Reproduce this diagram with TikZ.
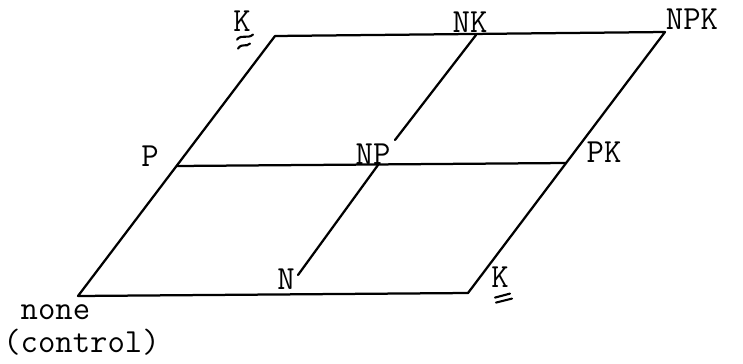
\documentclass[tikz,border=0pt]{standalone}
\usepackage{fontspec}
\usetikzlibrary{calc}
\tikzset{
  rim/.style={line width=1.6pt, line join=round, line cap=round},
  lbl/.style={font=\ttfamily\fontsize{24}{23}\selectfont, inner sep=0pt},
  ul/.style={line width=1.5pt, line cap=round}
}

\begin{document}
\begin{tikzpicture}[x=0.025cm, y=-0.025cm]
  \useasboundingbox (0,0) rectangle (743,363);

  % corners of the grid
  \coordinate (o)   at (78,296);
  \coordinate (kb)  at (468,293);
  \coordinate (p)   at (177,166);
  \coordinate (pk)  at (566,163);
  \coordinate (k)   at (275,36);
  \coordinate (npk) at (665,32);
  \coordinate (np)  at (378,165);
  \coordinate (nk)  at (476,35);
  \coordinate (nt)  at (298,275);
  \coordinate (npt) at (395,140);

  % labels
  \node[lbl] (lk)   at (242,21)  {K};
  \node[lbl] (lnk)  at (470,22)  {NK};
  \node[lbl] (lnpk) at (692,19)  {NPK};
  \node[lbl] (lp)   at (150,156) {P};
  \node[lbl] (lnp)  at (373,154) {NP};
  \node[lbl] (lpk)  at (604,152) {PK};
  \node[lbl] (ln)   at (286,279) {N};
  \node[lbl] (lkb)  at (500,277) {K};
  \node[lbl, align=left, anchor=base west] (lnone) at (3,352)
    {\phantom{(}none\\(control)};

  % double underlines under K
  \draw[ul] ($(lk.south)+(-5,8)$) .. controls ($(lk.south)+(0,2)$) and ($(lk.south)+(5,8)$) .. ($(lk.south)+(11,3)$);
  \draw[ul] ($(lk.south)+(-4,17)$) .. controls ($(lk.south)+(0,11)$) and ($(lk.south)+(4,16)$) .. ($(lk.south)+(8,12)$);
  \draw[ul] ($(lkb.south)+(-5,10)$) -- ($(lkb.south)+(10,6)$);
  \draw[ul] ($(lkb.south)+(-4,15)$) -- ($(lkb.south)+(12,11)$);

  % grid
  \draw[rim] (o) -- (kb) -- (npk) -- (k) -- cycle;
  \draw[rim] (p) -- (pk);
  \draw[rim] (nt) -- (np);
  \draw[rim] (npt) -- (nk);
\end{tikzpicture}
\end{document}
